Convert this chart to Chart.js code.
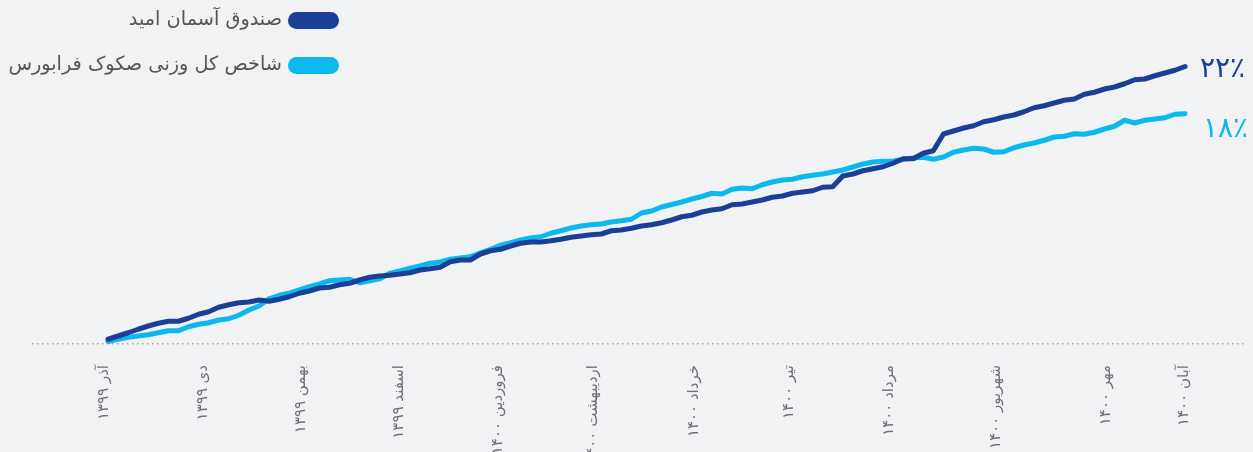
<!DOCTYPE html>
<html lang="fa">
<head>
<meta charset="utf-8">
<script src="https://cdn.jsdelivr.net/npm/chart.js@4.4.0/dist/chart.umd.min.js"></script>
<style>
  html, body { margin: 0; padding: 0; background: #f1f2f4; }
  #wrap { width: 1253px; height: 452px; position: relative; }
</style>
</head>
<body>
<div id="wrap"><canvas id="returnChart"></canvas></div>
<script>
// cumulative return (%) sampled roughly every 3 days, Azar 1399 -> Aban 1400
const seriesNames = ['صندوق آسمان امید', 'شاخص کل وزنی صکوک فرابورس'];
const endLabels = ['۲۲٪', '۱۸٪'];

const fundValues = [
  0.38, 0.64, 0.90, 1.18, 1.44, 1.66, 1.82, 1.82, 2.06, 2.38,
  2.58, 2.94, 3.14, 3.30, 3.36, 3.52, 3.42, 3.58, 3.78, 4.06,
  4.24, 4.48, 4.54, 4.74, 4.86, 5.12, 5.34, 5.44, 5.50, 5.60,
  5.70, 5.92, 6.02, 6.14, 6.58, 6.72, 6.72, 7.20, 7.46, 7.58,
  7.84, 8.06, 8.16, 8.16, 8.26, 8.38, 8.54, 8.64, 8.74, 8.80,
  9.06, 9.12, 9.26, 9.44, 9.54, 9.70, 9.92, 10.18, 10.30, 10.56,
  10.72, 10.82, 11.14, 11.20, 11.36, 11.52, 11.74, 11.84, 12.06, 12.16,
  12.26, 12.54, 12.58, 13.44, 13.60, 13.86, 14.02, 14.18, 14.46, 14.82,
  14.82, 15.26, 15.46, 16.80, 17.04, 17.28, 17.46, 17.78, 17.94, 18.16,
  18.32, 18.58, 18.90, 19.06, 19.28, 19.50, 19.60, 19.98, 20.14, 20.40,
  20.56, 20.82, 21.14, 21.20, 21.46, 21.68, 21.90, 22.20
];

const indexValues = [
  0.20, 0.38, 0.54, 0.64, 0.74, 0.90, 1.06, 1.06, 1.38, 1.58,
  1.70, 1.92, 2.02, 2.30, 2.72, 3.04, 3.62, 3.90, 4.06, 4.32,
  4.58, 4.80, 5.06, 5.12, 5.18, 4.90, 5.06, 5.22, 5.66, 5.84,
  6.06, 6.24, 6.46, 6.56, 6.78, 6.88, 6.98, 7.30, 7.58, 7.90,
  8.10, 8.32, 8.48, 8.58, 8.86, 9.06, 9.28, 9.44, 9.54, 9.60,
  9.76, 9.86, 9.98, 10.48, 10.64, 10.96, 11.16, 11.36, 11.60, 11.80,
  12.06, 12.00, 12.38, 12.48, 12.42, 12.74, 12.96, 13.12, 13.18, 13.38,
  13.50, 13.60, 13.76, 13.92, 14.16, 14.40, 14.56, 14.62, 14.62, 14.78,
  14.88, 14.94, 14.78, 14.96, 15.34, 15.52, 15.66, 15.60, 15.34, 15.38,
  15.70, 15.92, 16.08, 16.30, 16.56, 16.62, 16.82, 16.78, 16.94, 17.20,
  17.42, 17.90, 17.68, 17.90, 18.00, 18.10, 18.38, 18.42
];

const tickLabels = [
  'آذر ۱۳۹۹', 'دی ۱۳۹۹', 'بهمن ۱۳۹۹', 'اسفند ۱۳۹۹', 'فروردین ۱۴۰۰', 'اردیبهشت ۱۴۰۰',
  'خرداد ۱۴۰۰', 'تیر ۱۴۰۰', 'مرداد ۱۴۰۰', 'شهریور ۱۴۰۰', 'مهر ۱۴۰۰', 'آبان ۱۴۰۰'
];
// month starts, in sample units
const tickPositions = [-0.4, 9.4, 19.2, 28.9, 38.8, 48.2, 58.2, 67.7, 77.6, 88.2, 99.2, 106.9];

const darkBlue = '#1a3f96';
const lightBlue = '#0cb9ee';
const fontFa = '"DejaVu Sans", sans-serif';

const toPoints = arr => arr.map((v, i) => ({ x: i, y: v }));

// legend on the top left, pill + label
const sideLegend = {
  id: 'sideLegend',
  afterDraw(chart) {
    const ctx = chart.ctx;
    ctx.save();
    chart.data.datasets.forEach((ds, i) => {
      const y = 20 + i * 45;
      ctx.fillStyle = ds.borderColor;
      ctx.beginPath();
      ctx.roundRect(288, y - 8, 51, 17, 8.5);
      ctx.fill();
      ctx.fillStyle = '#555';
      ctx.font = '19.3px ' + fontFa;
      ctx.textAlign = 'right';
      ctx.textBaseline = 'middle';
      ctx.fillText(ds.label, 282, y);
    });
    ctx.restore();
  }
};

// percent at the end of each line
const endLabelOffsets = [[15, 3], [18, 16]];
const endLabel = {
  id: 'endLabel',
  afterDatasetsDraw(chart) {
    const ctx = chart.ctx;
    ctx.save();
    ctx.font = '28px ' + fontFa;
    ctx.textAlign = 'left';
    ctx.textBaseline = 'middle';
    chart.data.datasets.forEach((ds, i) => {
      const pts = chart.getDatasetMeta(i).data;
      const last = pts[pts.length - 1];
      ctx.fillStyle = ds.borderColor;
      ctx.fillText(endLabels[i], last.x + endLabelOffsets[i][0], last.y + endLabelOffsets[i][1]);
    });
    ctx.restore();
  }
};

const ctx = document.getElementById('returnChart').getContext('2d');
new Chart(ctx, {
  type: 'line',
  data: {
    datasets: [{
      label: seriesNames[0],
      data: toPoints(fundValues),
      borderColor: darkBlue,
      borderWidth: 5,
      pointRadius: 0,
      borderCapStyle: 'round',
      borderJoinStyle: 'round'
    }, {
      label: seriesNames[1],
      data: toPoints(indexValues),
      borderColor: lightBlue,
      borderWidth: 5,
      pointRadius: 0,
      borderCapStyle: 'round',
      borderJoinStyle: 'round'
    }]
  },
  options: {
    responsive: true,
    maintainAspectRatio: false,
    animation: false,
    layout: {
      padding: { top: 19, left: 32, right: 8, bottom: 0 }
    },
    scales: {
      x: {
        type: 'linear',
        min: -7.55,
        max: 112.96,
        grid: { display: false },
        border: { display: false },
        afterBuildTicks: scale => {
          scale.ticks = tickPositions.map(v => ({ value: v }));
        },
        afterFit: scale => { scale.height = 108; },
        ticks: {
          autoSkip: false,
          minRotation: 90,
          maxRotation: 90,
          padding: 13,
          color: '#6f7174',
          font: { family: fontFa, size: 15 },
          callback: (v, i) => tickLabels[i]
        }
      },
      y: {
        min: 0,
        max: 26,
        // only the zero line, dotted
        afterBuildTicks: scale => { scale.ticks = [{ value: 0 }]; },
        afterFit: scale => { scale.width = 0; },
        ticks: { display: false },
        grid: { color: '#a4a6aa', lineWidth: 1.5, drawTicks: false },
        border: { display: false, dash: [1.5, 3.5] }
      }
    },
    plugins: {
      legend: { display: false },
      tooltip: { enabled: false }
    }
  },
  plugins: [sideLegend, endLabel]
});
</script>
</body>
</html>
